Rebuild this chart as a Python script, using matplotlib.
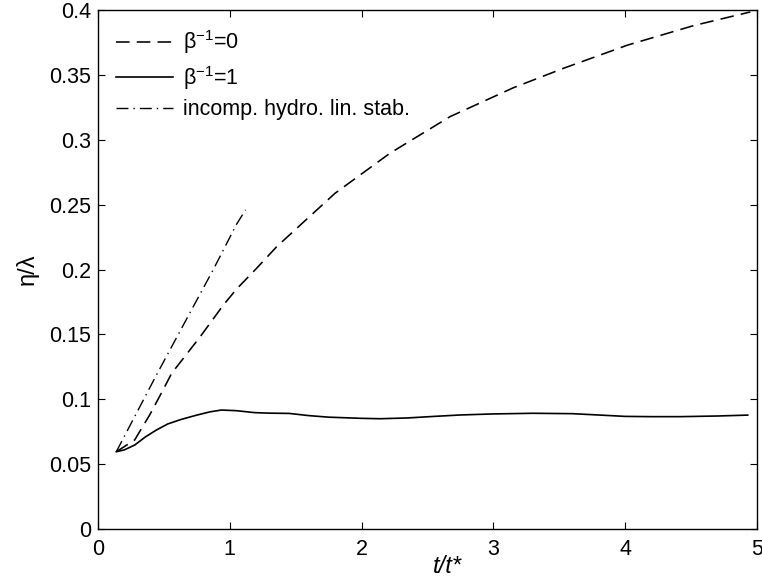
import matplotlib
matplotlib.use("Agg")
import matplotlib.pyplot as plt
import numpy as np

plt.rcParams['font.family'] = ['Liberation Sans', 'DejaVu Sans']
plt.rcParams['mathtext.fontset'] = 'custom'
plt.rcParams['mathtext.rm'] = 'Liberation Sans'
plt.rcParams['mathtext.it'] = 'Liberation Sans:italic'

# beta^-1 = 0 (dashed)
t_b0 = [0.139, 0.278, 0.392, 0.48, 0.559, 0.774, 0.951, 1.052, 1.204, 1.356, 1.43,
        1.798, 2.215, 2.671, 3.15, 3.53, 4.02, 4.52, 4.95]
eta_b0 = [0.0596, 0.0686, 0.0879, 0.1046, 0.120, 0.148, 0.1726, 0.185, 0.201, 0.2176, 0.2245,
          0.2587, 0.2896, 0.3178, 0.340, 0.355, 0.373, 0.388, 0.3985]

# beta^-1 = 1 (solid)
t_b1 = [0.139, 0.2, 0.278, 0.36, 0.443, 0.53, 0.632, 0.75, 0.85, 0.936, 1.05, 1.189,
        1.3, 1.45, 1.6, 1.75, 2.0, 2.14, 2.35, 2.55, 2.75, 3.0, 3.3, 3.6, 3.85, 4.0,
        4.2, 4.42, 4.7, 4.93]
eta_b1 = [0.0596, 0.061, 0.0647, 0.071, 0.0763, 0.081, 0.0845, 0.0878, 0.0903, 0.0917, 0.0912, 0.0897,
          0.0893, 0.0891, 0.0874, 0.0862, 0.0853, 0.0850, 0.0856, 0.0868, 0.0879, 0.0887, 0.0892, 0.0889, 0.0876, 0.0868,
          0.0866, 0.0866, 0.0871, 0.0878]

# incompressible hydro linear stability (dash-dot)
t_lin = [0.139, 0.445, 0.673, 0.875, 1.052, 1.12]
eta_lin = [0.0596, 0.119, 0.162, 0.200, 0.235, 0.246]

labels = [r'$\mathregular{\beta^{-1}}$=0', r'$\mathregular{\beta^{-1}}$=1', 'incomp. hydro. lin. stab.']

fig = plt.figure(figsize=(7.62, 5.88), dpi=100)
ax = fig.add_axes([0.1286, 0.1003, 0.8648, 0.8827])

ax.plot(t_b0, eta_b0, color='black', linestyle=(0, (8.5, 4.5)), linewidth=1.15, label=labels[0])
ax.plot(t_b1, eta_b1, color='black', linestyle='-', linewidth=1.2, label=labels[1])
ax.plot(t_lin, eta_lin, color='black', linestyle=(0, (8.6, 3.6, 1, 3.6)), linewidth=1.0, label=labels[2])

ax.set_xlim(0, 5)
ax.set_ylim(0, 0.4)
ax.set_xticks([0, 1, 2, 3, 4, 5])
ax.set_yticks(np.arange(0, 0.41, 0.05))
ax.set_yticklabels(['0', '0.05', '0.1', '0.15', '0.2', '0.25', '0.3', '0.35', '0.4'])
ax.tick_params(direction='in', top=True, right=True, labelsize=15.5, length=5, width=0.8)
ax.tick_params(axis='x', pad=7)
ax.tick_params(axis='y', pad=5)
for s in ax.spines.values():
    s.set_linewidth(1.0)

ax.set_xlabel('t/t*', fontsize=17, style='italic')
ax.xaxis.set_label_coords(0.53, -0.0713)
ax.xaxis.label.set_va('center')
ax.set_ylabel('η/λ', fontsize=17)
ax.yaxis.set_label_coords(-0.108, 0.5)
ax.yaxis.label.set_va('center')

ax.legend(loc='upper left', frameon=False, fontsize=15.5, handlelength=2.65,
          borderaxespad=0.3, borderpad=0.55, labelspacing=0.35, handletextpad=0.45)

fig.savefig('out.png', dpi=100)
